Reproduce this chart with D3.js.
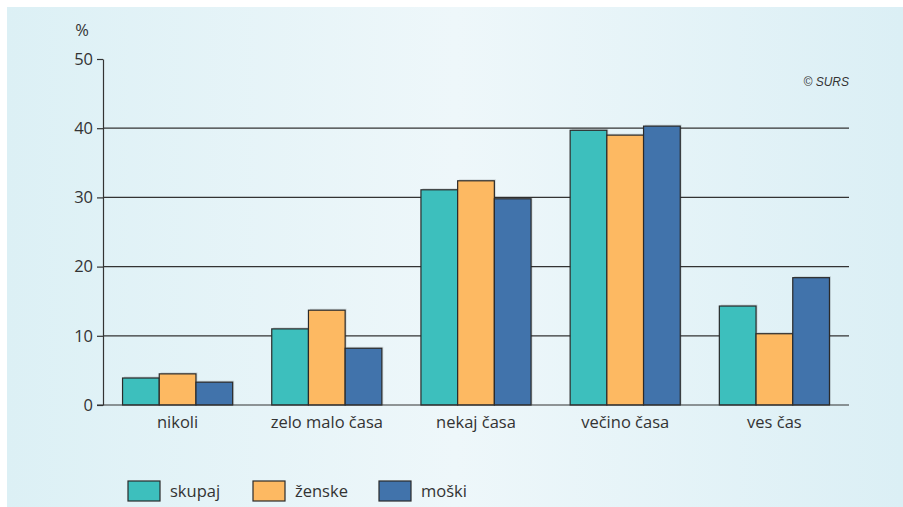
<!DOCTYPE html>
<html><head><meta charset="utf-8">
<script src="https://cdn.jsdelivr.net/npm/d3@7"></script>
<style>html,body{margin:0;padding:0;background:#fff;}svg{display:block;}</style>
</head><body>
<svg id="c" width="903" height="507"></svg>
<script>
const categories = ["nikoli", "zelo malo časa", "nekaj časa", "večino časa", "ves čas"];
const seriesNames = ["skupaj", "ženske", "moški"];
const skupaj = [3.9, 11.0, 31.1, 39.7, 14.3];
const zenske = [4.5, 13.7, 32.4, 39.0, 10.3];
const moski = [3.3, 8.2, 29.8, 40.3, 18.4];
const colors = ["#3dbfbd", "#fdb962", "#4173ab"];
const yTicks = [0, 10, 20, 30, 40, 50];

const seriesValues = [skupaj, zenske, moski];
const svg = d3.select("#c");
const font = "'Open Sans', 'Noto Sans', sans-serif";
const fs = 16.5;

const defs = svg.append("defs");
const g = defs.append("linearGradient").attr("id", "bg").attr("x1", "0").attr("x2", "1").attr("y1", "0").attr("y2", "0");
g.append("stop").attr("offset", "0").attr("stop-color", "#dcf0f5");
g.append("stop").attr("offset", "0.5").attr("stop-color", "#eef7fa");
g.append("stop").attr("offset", "1").attr("stop-color", "#dbeff5");
svg.append("rect").attr("x", 7).attr("y", 7).attr("width", 896).attr("height", 500).attr("fill", "url(#bg)");

const pL = 103, pR = 849, pT = 59, pB = 405;
const x0 = d3.scaleBand().domain(categories).range([pL, pR]).paddingInner(0.262).paddingOuter(0.131);
const x1 = d3.scaleBand().domain(seriesNames).range([0, x0.bandwidth()]);
const y = d3.scaleLinear().domain([0, 50]).range([pB, pT]);

// gridlines
svg.append("g").selectAll("line").data(yTicks.filter(t => t > 0 && t < 50)).join("line")
  .attr("x1", pL).attr("x2", pR).attr("y1", d => y(d)).attr("y2", d => y(d))
  .attr("stroke", "#333").attr("stroke-width", 1.2);

// bars
const groups = svg.append("g").selectAll("g").data(categories).join("g")
  .attr("transform", d => `translate(${x0(d)},0)`);
groups.selectAll("rect.sh").data((d, i) => seriesNames.map((s, k) => ({s, v: seriesValues[k][i], k})))
  .join("rect").attr("class", "sh")
  .attr("x", d => x1(d.s) + 1.5).attr("y", d => y(d.v) - 1.5)
  .attr("width", x1.bandwidth()).attr("height", d => y(0) - y(d.v) + 1.5)
  .attr("fill", "#000").attr("opacity", 0.12);
groups.selectAll("rect.b").data((d, i) => seriesNames.map((s, k) => ({s, v: seriesValues[k][i], k})))
  .join("rect").attr("class", "b")
  .attr("x", d => x1(d.s)).attr("y", d => y(d.v))
  .attr("width", x1.bandwidth()).attr("height", d => y(0) - y(d.v))
  .attr("fill", d => colors[d.k]).attr("stroke", "#2a2a2a").attr("stroke-width", 1.2);

// y axis
const yAxis = d3.axisLeft(y).tickValues(yTicks).tickSize(6).tickPadding(4).tickSizeOuter(0);
const ya = svg.append("g").attr("transform", `translate(${pL},0)`).call(yAxis);
ya.select(".domain").attr("stroke", "#333").attr("stroke-width", 1.2);
ya.selectAll(".tick line").attr("stroke", "#333").attr("stroke-width", 1.2);
ya.selectAll(".tick text").attr("font-family", font).attr("font-size", fs).attr("fill", "#333");

// baseline
svg.append("line").attr("x1", pL - 6).attr("x2", pR).attr("y1", y(0)).attr("y2", y(0))
  .attr("stroke", "#333").attr("stroke-width", 1.2);

// x labels
const xAxis = d3.axisBottom(x0).tickSize(0).tickPadding(11);
const xa = svg.append("g").attr("transform", `translate(0,${pB})`).call(xAxis);
xa.select(".domain").remove();
xa.selectAll(".tick text").attr("font-family", font).attr("font-size", fs).attr("fill", "#333");

// % label
svg.append("text").attr("x", 82).attr("y", 36).attr("text-anchor", "middle")
  .attr("font-family", font).attr("font-size", fs).attr("fill", "#333").text("%");

// copyright
svg.append("text").attr("x", 849).attr("y", 86).attr("text-anchor", "end")
  .attr("font-family", "'Liberation Sans', sans-serif").attr("font-style", "italic").attr("font-size", 12).attr("fill", "#333").text("© SURS");

// legend
const legX = [128, 253, 379];
const leg = svg.append("g").selectAll("g").data(seriesNames).join("g")
  .attr("transform", (d, i) => `translate(${legX[i]},481)`);
leg.append("rect").attr("width", 32).attr("height", 20).attr("fill", (d, i) => colors[i])
  .attr("stroke", "#2a2a2a").attr("stroke-width", 1.2);
leg.append("text").attr("x", 42).attr("y", 16).attr("font-family", font).attr("font-size", fs)
  .attr("fill", "#333").text(d => d);
</script>
</body></html>
